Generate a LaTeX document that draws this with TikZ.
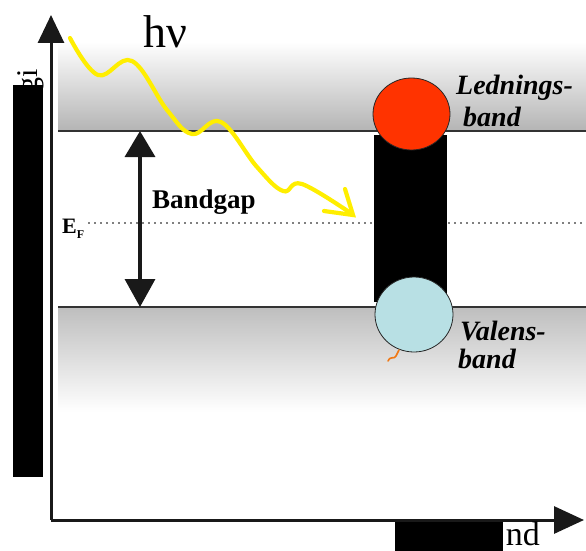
\documentclass[tikz,border=0pt]{standalone}
\usepackage{fontspec}
\setmainfont{Liberation Serif}
\usetikzlibrary{arrows.meta,shapes.geometric}
\definecolor{bandgray}{RGB}{180,180,180}
\definecolor{bandgrayb}{RGB}{190,190,190}
\definecolor{redc}{RGB}{255,51,0}
\definecolor{bluec}{RGB}{184,224,228}
\definecolor{yel}{RGB}{255,238,0}
\definecolor{orng}{RGB}{240,120,20}
\tikzset{
  axisline/.style={line width=3pt, color=black!90},
  bandline/.style={line width=2pt, color=black!80},
  lbl/.style={inner sep=0pt, anchor=base west},
  bandlbl/.style={lbl, font=\bfseries\itshape\fontsize{28}{28}\selectfont},
  particle/.style={ellipse, draw=black!85, line width=0.8pt, inner sep=0pt},
  photon/.style={yel, line width=4.2pt, line cap=round},
  redact/.style={fill=black}
}
\begin{document}
\begin{tikzpicture}[x=1pt,y=-1pt]
\useasboundingbox (0,0) rectangle (586,551);
% bands
\shade[top color=white, bottom color=bandgray] (58,42) rectangle (586,131);
\shade[top color=bandgrayb, bottom color=white] (58,307) rectangle (586,412);
\coordinate (cbL) at (58,131); \coordinate (cbR) at (586,131);
\coordinate (vbL) at (58,307); \coordinate (vbR) at (586,307);
\draw[bandline] (cbL) -- (cbR);
\draw[bandline] (vbL) -- (vbR);
% Fermi level
\coordinate (efL) at (88,223); \coordinate (efR) at (586,223);
\draw[gray, line width=1.6pt, dash pattern=on 1.6pt off 4.4pt] (efL) -- (efR);
% axes
\coordinate (O) at (51,520); \coordinate (Ytop) at (51,15); \coordinate (Xend) at (584,520);
\draw[axisline, -{Triangle[length=28pt,width=26pt]}] (O) -- (Ytop);
\draw[axisline, -{Triangle[length=30pt,width=27pt]}] (O) -- (Xend);
% bandgap arrow
\coordinate (gT) at (140,131); \coordinate (gB) at (140,307);
\draw[line width=3.5pt, color=black!90, {Triangle[length=26pt,width=30pt]}-{Triangle[length=28pt,width=30pt]}] (gT) -- (gB);
% black column
\fill[black] (374,135) rectangle (447,302);
% electron and hole
\node[particle, fill=redc, minimum width=77pt, minimum height=72pt] (el) at (411.5,114) {};
\node[particle, fill=bluec, minimum width=78pt, minimum height=75pt] (ho) at (414,314.5) {};
\draw[orng, line width=1.6pt, line cap=round] (388,361) .. controls (391,355) and (394,360) .. (396,356) -- (399,350);
% photon
\draw[photon] plot[smooth, tension=0.65] coordinates {(70,38) (98,75) (132,61) (167,110) (192,134) (221,122) (257,167) (283,191) (302,184) (352,214)};
\coordinate (tip) at (353,215);
\draw[photon, line join=miter] (324,211) -- (tip) -- (345,189);
% texts
\node[lbl, font=\fontsize{46}{46}\selectfont] (hv) at (143,48) {hν};
\node[lbl, font=\bfseries\fontsize{27}{27}\selectfont] (bg) at (152,208) {Bandgap};
\node[lbl, font=\bfseries\fontsize{22}{22}\selectfont] (ef) at (62,233) {E\raisebox{-5pt}{\fontsize{12}{12}\selectfont F}};
\node[bandlbl] (l1) at (456,94) {Lednings-};
\node[bandlbl] (l2) at (463,126) {band};
\node[bandlbl] (v1) at (460,340) {Valens-};
\node[bandlbl] (v2) at (458,368) {band};
% axis labels (partly covered)
\node[inner sep=0pt, rotate=90, anchor=base east, font=\fontsize{30}{30}\selectfont] (ylab) at (37,69) {gi};
\fill[redact] (13,85) rectangle (43,477);
\node[inner sep=0pt, anchor=base east, font=\fontsize{34}{34}\selectfont] (xlab) at (540,545) {nd};
\fill[redact] (395,522) rectangle (503,551);
\end{tikzpicture}
\end{document}
